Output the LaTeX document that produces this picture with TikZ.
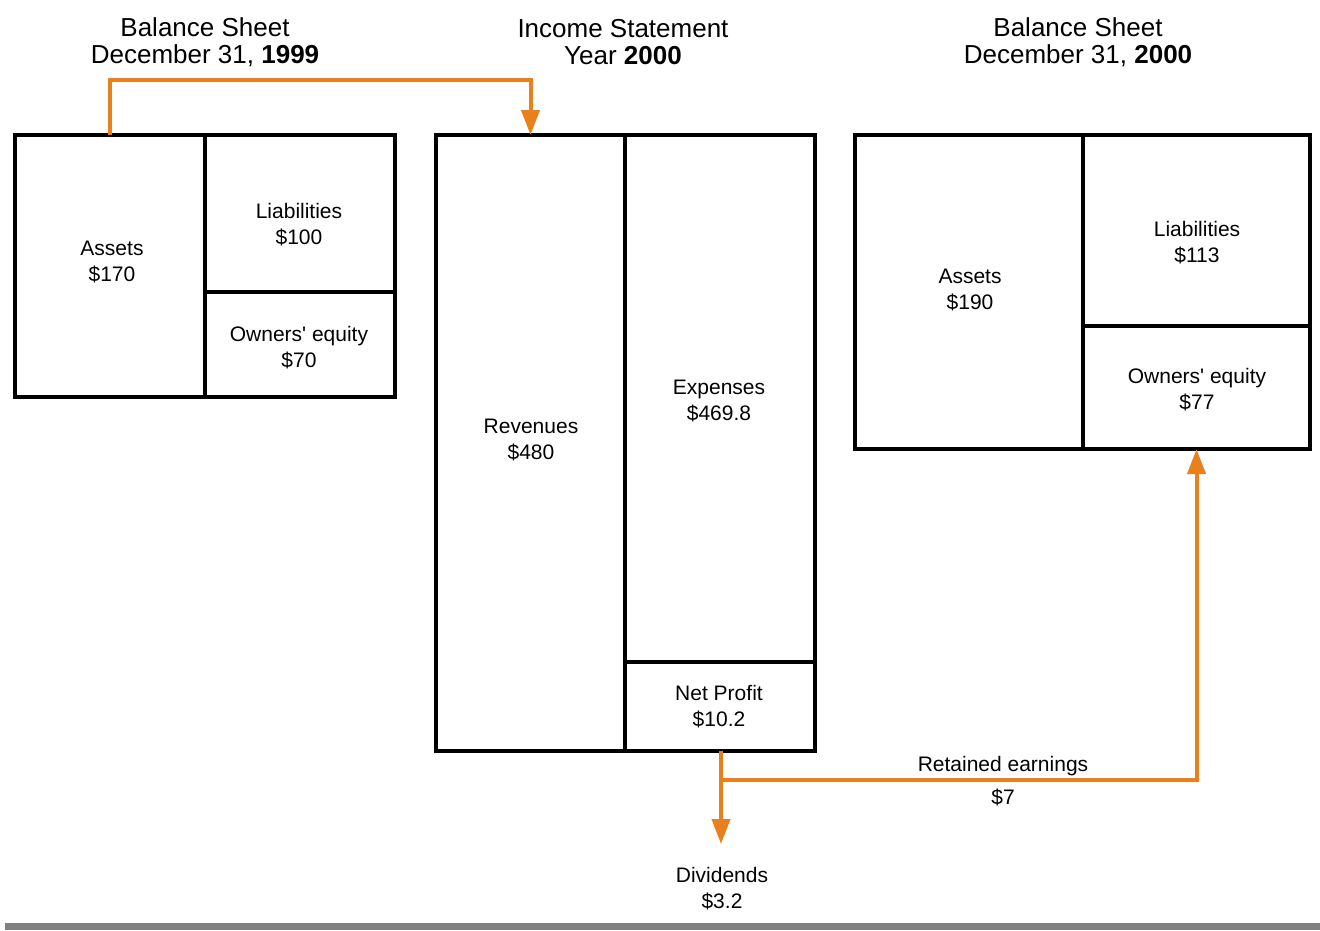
\documentclass[tikz,border=0pt]{standalone}
\usepackage{fontspec}
\setmainfont{Liberation Sans}
\newfontfamily\lib{Liberation Sans}
\usetikzlibrary{arrows.meta}
\definecolor{flow}{HTML}{E8801E}
\definecolor{barg}{HTML}{808080}
\newcommand{\apos}{{\lib\char"27}}
\tikzset{
  cell/.style={draw=black, line width=3.5pt, minimum width=#1, inner sep=0pt, outer sep=0pt},
  lbl/.style={font=\lib\fontsize{21}{26}\selectfont, align=center, inner sep=0pt},
  ttl/.style={font=\lib\fontsize{26}{27}\selectfont, align=center, inner sep=0pt},
  flowline/.style={draw=flow, line width=4pt},
  flowarrow/.style={flowline, -{Triangle[length=25pt,width=18pt]}},
}
\begin{document}
\begin{tikzpicture}[x=1pt,y=-1pt]
\useasboundingbox (0,0) rectangle (1320,930);
\fill[barg] (5,923) rectangle (1320,930);

% Titles
\node[ttl] (t1) at (205,42.5) {Balance Sheet\\December 31, \textbf{1999}};
\node[ttl] (t2) at (623,42.5) {Income Statement\\Year \textbf{2000}};
\node[ttl] (t3) at (1078,42.5) {Balance Sheet\\December 31, \textbf{2000}};

% Balance sheet 1999
\node[cell=190pt, minimum height=262pt] (a1) at (110,266) {};
\node[cell=190pt, minimum height=157pt] (l1) at (300,213.5) {};
\node[cell=190pt, minimum height=105pt] (e1) at (300,344.5) {};
\node[lbl] at (112,261.5) {Assets\\\$170};
\node[lbl] at (299,224.5) {Liabilities\\\$100};
\node[lbl] at (299,347.5) {Owners\apos{} equity\\\$70};

% Income statement 2000
\node[cell=189pt, minimum height=616pt] (rev) at (530.5,443) {};
\node[cell=190pt, minimum height=527pt] (exp) at (720,398.5) {};
\node[cell=190pt, minimum height=89pt] (np) at (720,706.5) {};
\node[lbl] at (531,439.5) {Revenues\\\$480};
\node[lbl] at (719,400.5) {Expenses\\\$469.8};
\node[lbl] at (719,706.5) {Net Profit\\\$10.2};

% Balance sheet 2000
\node[cell=228pt, minimum height=314pt] (a2) at (969,292) {};
\node[cell=227pt, minimum height=191pt] (l2) at (1196.5,230.5) {};
\node[cell=227pt, minimum height=123pt] (e2) at (1196.5,387.5) {};
\node[lbl] at (970,289.5) {Assets\\\$190};
\node[lbl] at (1197,242.5) {Liabilities\\\$113};
\node[lbl] at (1197,389.5) {Owners\apos{} equity\\\$77};

% Dividends and retained earnings
\node[lbl, anchor=north] (div) at (722,867.5) {Dividends\\\$3.2};
\node[lbl] (re) at (1003,766.5) {Retained earnings};
\node[lbl] (re7) at (1003,797) {\$7};

% Flows
\draw[flowarrow] (a1.north) -- ++(0,-55) -| (rev.north);
\coordinate (npout) at (721,751);
\coordinate (br) at (721,780);
\draw[flowarrow] (npout) -- (npout |- {(0,844)});
\draw[flowarrow] (br) -| (e2.south);
\end{tikzpicture}
\end{document}
